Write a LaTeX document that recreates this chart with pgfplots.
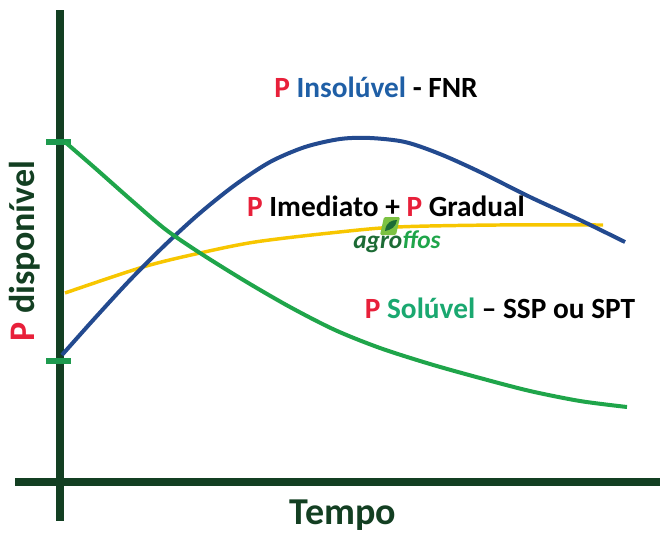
\documentclass[border=0pt]{standalone}
\usepackage{pgfplots}
\pgfplotsset{compat=1.18}
\usepackage{fontspec}
\setmainfont{Carlito}
\definecolor{axgreen}{HTML}{133F22}
\definecolor{tickgreen}{HTML}{1E9A4E}
\definecolor{cgreen}{HTML}{1FA54A}
\definecolor{cblue}{HTML}{234A8F}
\definecolor{cyellow}{HTML}{F7C600}
\definecolor{pred}{HTML}{E8203A}
\definecolor{tblue}{HTML}{1F5FA6}
\definecolor{tgreen}{HTML}{1AA870}
\definecolor{lgreen}{HTML}{7CC242}
\definecolor{logodark}{HTML}{1C6B35}
\begin{document}
\begin{tikzpicture}
\begin{axis}[
  scale only axis, width=495pt, height=399.75pt,
  xmin=0, xmax=660, ymin=0, ymax=533, y dir=reverse,
  hide axis, clip=false,
]
% axes
\draw[axgreen, line width=6pt] (axis cs:60,10) -- (axis cs:60,521);
\draw[axgreen, line width=6pt] (axis cs:15,482) -- (axis cs:660,482);
\draw[tickgreen, line width=5pt] (axis cs:46,142) -- (axis cs:71,142);
\draw[tickgreen, line width=5pt] (axis cs:46,361) -- (axis cs:71,361);
% curves
\addplot[cyellow, line width=2.6pt, smooth, tension=0.5] coordinates {
 (65,293) (143,267) (200,253) (255,242) (330,233) (397,227) (497,225) (603,225)};
\addplot[cblue, line width=3pt, smooth, tension=0.5] coordinates {
 (62,355) (95,318) (130,280) (165,245) (200,213) (235,185) (270,162) (305,147) (340,139) (370,138) (405,142) (440,154) (480,172) (530,197) (580,220) (625,242)};
\addplot[cgreen, line width=3pt, smooth, tension=0.5] coordinates {
 (65,142) (95,168) (130,199) (165,229) (200,253) (245,281) (290,307) (335,330) (380,348) (430,364) (480,378) (530,391) (580,401) (627,407)};
% texts
\node[anchor=base, font=\fontsize{22}{24}\selectfont\bfseries, inner sep=0pt] at (axis cs:376,97)
  {\textcolor{pred}{P} \textcolor{tblue}{Insolúvel} - FNR};
\node[anchor=base, font=\fontsize{22}{24}\selectfont\bfseries, inner sep=0pt] at (axis cs:386,216)
  {\textcolor{pred}{P} Imediato + \textcolor{pred}{P} Gradual};
\node[anchor=base, font=\fontsize{22}{24}\selectfont\bfseries, inner sep=0pt] at (axis cs:500,318)
  {\textcolor{pred}{P} \textcolor{tgreen}{Solúvel} – SSP ou SPT};
% logo
\fill[lgreen, rounded corners=1pt] (axis cs:384,217) -- (axis cs:400,217) -- (axis cs:396,235) -- (axis cs:380,235) -- cycle;
\fill[logodark] (axis cs:385,231) .. controls (axis cs:386,222) and (axis cs:392,220) .. (axis cs:397,220) .. controls (axis cs:396,227) and (axis cs:391,230) .. (axis cs:385,231) -- cycle;
\node[anchor=base, font=\fontsize{19}{20}\selectfont\bfseries\itshape, inner sep=0pt] at (axis cs:397,248)
  {\textcolor{logodark}{agro}\textcolor{cgreen}{ffos}};
\node[anchor=base, rotate=90, font=\fontsize{27}{30}\selectfont\bfseries, inner sep=0pt] at (axis cs:34,251)
  {\textcolor{pred}{P} \textcolor{axgreen}{disponível}};
\node[anchor=base, font=\fontsize{28.5}{30}\selectfont\bfseries, inner sep=0pt, text=axgreen] at (axis cs:343,524)
  {Tempo};
\coordinate (bl) at (axis cs:0,533);
\coordinate (tr) at (axis cs:660,0);
\end{axis}
\pgfresetboundingbox
\useasboundingbox (bl) rectangle (tr);
\end{tikzpicture}
\end{document}
